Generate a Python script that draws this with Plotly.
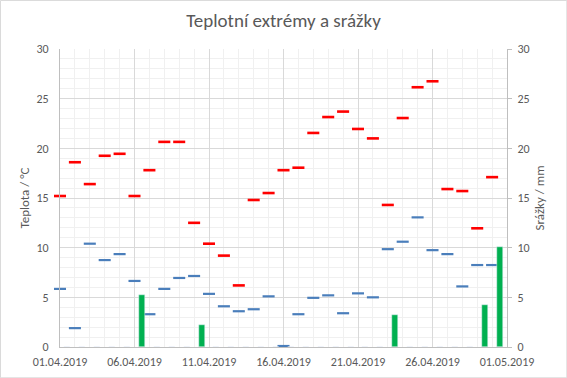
import plotly.graph_objects as go
import pandas as pd

dates = pd.date_range("2019-04-01", "2019-04-30", freq="D").strftime("%Y-%m-%d").tolist()

t_max = [15.2, 18.6, 16.4, 19.25, 19.45, 15.2, 17.8, 20.65, 20.65, 12.5,
         10.4, 9.2, 6.2, 14.8, 15.5, 17.8, 18.05, 21.55, 23.15, 23.7,
         21.95, 21.0, 14.3, 23.05, 26.15, 26.75, 15.9, 15.7, 11.95, 17.1]
t_min = [5.85, 1.9, 10.4, 8.75, 9.35, 6.65, 3.3, 5.85, 6.95, 7.15,
         5.35, 4.1, 3.6, 3.8, 5.1, 0.1, 3.3, 4.95, 5.2, 3.4,
         5.4, 5.0, 9.85, 10.6, 13.05, 9.75, 9.35, 6.1, 8.25, 8.25]
rain = [0, 0, 0, 0, 0, 5.2, 0, 0, 0, 2.2,
        0, 0, 0, 0, 0, 0, 0, 0, 0, 0,
        0, 0, 3.2, 0, 0, 0, 0, 0, 4.2, 10.1]

title_text = "Teplotní extrémy a srážky"
y_left_title = "Teplota / °C"
y_right_title = "Srážky / mm"

font_family = "Calibri, Carlito, Lato, sans-serif"
text_col = "#595959"
major_grid = "#D9D9D9"
minor_grid = "#F0F0F0"

bar_x = (pd.to_datetime(dates) + pd.Timedelta(hours=12)).strftime("%Y-%m-%d %H:%M").tolist()
day_ms = 86400000

fig = go.Figure()
fig.add_trace(go.Bar(x=bar_x, y=rain, yaxis="y2", marker_color="#00B050",
                     width=0.4 * day_ms, name="Srážky"))
fig.add_trace(go.Scatter(x=dates, y=t_max, mode="markers", cliponaxis=False,
                         marker=dict(symbol="line-ew", size=8.6,
                                     line=dict(color="#FF0000", width=2.6)),
                         name="Max"))
fig.add_trace(go.Scatter(x=dates, y=t_min, mode="markers", cliponaxis=False,
                         marker=dict(symbol="line-ew", size=8.6,
                                     line=dict(color="#4A7EBB", width=2.2)),
                         name="Min"))

fig.update_layout(
    width=567, height=378,
    margin=dict(l=60, r=60, t=49, b=31, autoexpand=False),
    paper_bgcolor="white", plot_bgcolor="white",
    showlegend=False,
    font=dict(family=font_family, color=text_col, size=11),
    title=dict(text=title_text, x=0.5, xanchor="center", y=0.945, yanchor="middle",
               automargin=False,
               font=dict(size=19, color=text_col, family=font_family)),
    xaxis=dict(
        type="date", range=["2019-04-01", "2019-05-01"], automargin=False,
        tick0="2019-04-01", dtick=5 * day_ms, tickformat="%d.%m.%Y",
        showgrid=True, gridcolor=major_grid, gridwidth=1,
        minor=dict(dtick=day_ms, showgrid=True, gridcolor=minor_grid, gridwidth=1),
        showline=True, linecolor="#BFBFBF", linewidth=1,
        ticks="", ticklabelstandoff=4, zeroline=False,
        tickfont=dict(size=12, color=text_col),
    ),
    yaxis=dict(
        range=[0, 30], dtick=5, tick0=0, automargin=False,
        showgrid=True, gridcolor=major_grid, gridwidth=1,
        minor=dict(dtick=1, showgrid=True, gridcolor=minor_grid, gridwidth=1),
        showline=True, linecolor="#BFBFBF", linewidth=1, zeroline=False,
        ticks="", ticklabelstandoff=8,
        title=dict(text=y_left_title, font=dict(size=13, color=text_col), standoff=3),
        tickfont=dict(size=12, color=text_col),
    ),
    yaxis2=dict(
        range=[0, 30], dtick=5, tick0=0, overlaying="y", side="right", automargin=False,
        showgrid=False, showline=True, linecolor="#BFBFBF", linewidth=1,
        ticks="outside", ticklen=4, tickcolor="#BFBFBF", zeroline=False,
        ticklabelstandoff=3,
        title=dict(text=y_right_title, font=dict(size=13, color=text_col), standoff=6),
        tickfont=dict(size=12, color=text_col),
    ),
    bargap=0,
    shapes=[dict(type="rect", xref="paper", yref="paper",
                 x0=-0.1332, x1=1.1339, y0=-0.1035, y1=1.163,
                 line=dict(color="#D9D9D9", width=1), fillcolor="rgba(0,0,0,0)")],
)

fig.write_html("out.html", config={"displayModeBar": False},
               post_script="document.body.style.margin='0';document.body.style.padding='0';")
